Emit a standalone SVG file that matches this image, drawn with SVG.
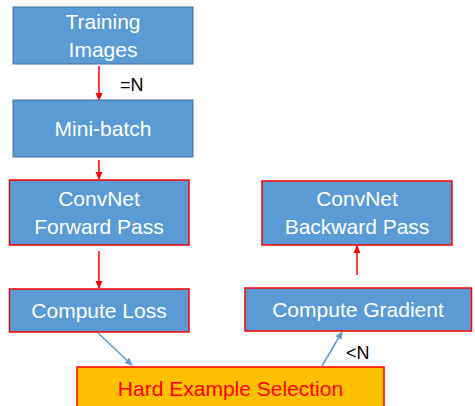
<svg xmlns="http://www.w3.org/2000/svg" width="475" height="406" viewBox="0 0 475 406">
  <style>
    .box { fill: #5B9BD5; stroke: #41719C; stroke-width: 1; }
    .boxr { fill: #5B9BD5; stroke: #FF0000; stroke-width: 1.5; }
    .sel { fill: #FFC000; stroke: #FF0000; stroke-width: 1.5; }
    .lbl { font-family: "Liberation Sans", Arial, sans-serif; font-size: 21px; fill: #FFFFFF; text-anchor: middle; }
    .lblr { font-family: "Liberation Sans", Arial, sans-serif; font-size: 21px; fill: #FF0000; text-anchor: middle; }
    .note { font-family: "Liberation Sans", Arial, sans-serif; font-size: 18px; fill: #000000; }
    .red { stroke: #FF0000; stroke-width: 1.5; fill: none; marker-end: url(#headRed); }
    .blue { stroke: #5B9BD5; stroke-width: 1.5; fill: none; marker-end: url(#headBlue); }
  </style>
  <defs>
    <marker id="headRed" markerWidth="8" markerHeight="8" refX="7" refY="4" orient="auto" markerUnits="userSpaceOnUse">
      <path d="M0,0.5 L8,4 L0,7.5 Z" fill="#FF0000"/>
    </marker>
    <marker id="headBlue" markerWidth="8" markerHeight="8" refX="7" refY="4" orient="auto" markerUnits="userSpaceOnUse">
      <path d="M0,0.5 L8,4 L0,7.5 Z" fill="#5B9BD5"/>
    </marker>
  </defs>

  <g id="connectors">
    <line class="red" x1="99" y1="66" x2="99" y2="100"/>
    <line class="red" x1="99" y1="160" x2="99" y2="179"/>
    <line class="red" x1="99" y1="251" x2="99" y2="288"/>
    <line class="red" x1="357" y1="275" x2="357" y2="246"/>
    <line class="blue" x1="98" y1="333" x2="132" y2="365"/>
    <line class="blue" x1="322" y1="366" x2="342" y2="332"/>
    <text class="note" x="120" y="91">=N</text>
    <text class="note" x="346" y="359">&lt;N</text>
  </g>

  <g id="training-images">
    <rect class="box" x="13" y="7" width="180" height="57"/>
    <text class="lbl" x="103" y="29">Training</text>
    <text class="lbl" x="103" y="57">Images</text>
  </g>

  <g id="mini-batch">
    <rect class="box" x="13" y="100" width="180" height="57"/>
    <text class="lbl" x="103" y="136">Mini-batch</text>
  </g>

  <g id="forward-pass">
    <rect class="boxr" x="9.5" y="180" width="179.5" height="65"/>
    <text class="lbl" x="99" y="206">ConvNet</text>
    <text class="lbl" x="99" y="234">Forward Pass</text>
  </g>

  <g id="compute-loss">
    <rect class="boxr" x="9.5" y="289" width="179.5" height="43"/>
    <text class="lbl" x="99" y="318">Compute Loss</text>
  </g>

  <g id="backward-pass">
    <rect class="boxr" x="262" y="181" width="190" height="64"/>
    <text class="lbl" x="357" y="206">ConvNet</text>
    <text class="lbl" x="357" y="234">Backward Pass</text>
  </g>

  <g id="compute-gradient">
    <rect class="boxr" x="245" y="288" width="226.5" height="43"/>
    <text class="lbl" x="358" y="317">Compute Gradient</text>
  </g>

  <g id="hard-example-selection">
    <rect class="sel" x="77" y="367" width="307" height="45"/>
    <text class="lblr" x="230.5" y="396">Hard Example Selection</text>
  </g>
</svg>
